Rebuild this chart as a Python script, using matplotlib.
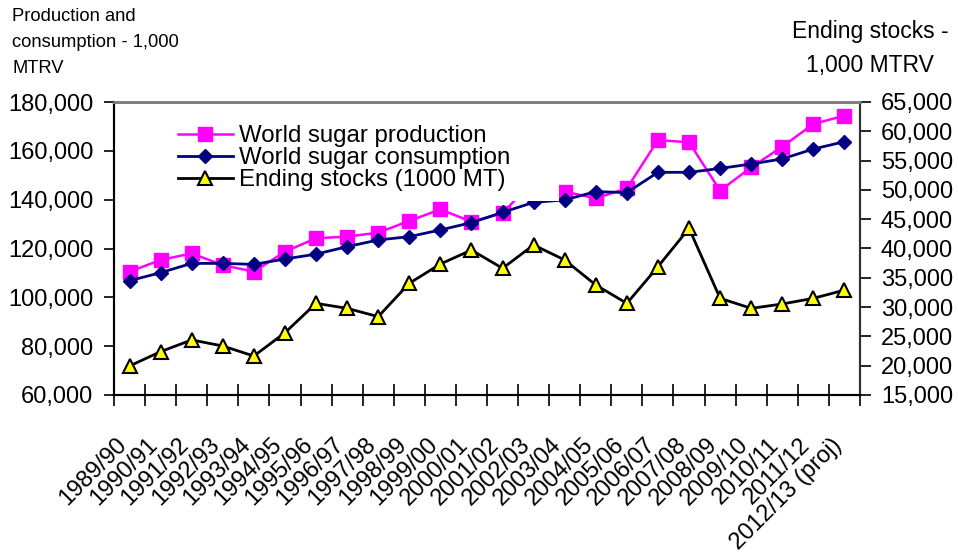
import numpy as np
import matplotlib.pyplot as plt
from matplotlib.ticker import StrMethodFormatter
from matplotlib.transforms import ScaledTranslation

plt.rcParams['font.family'] = ['Liberation Sans', 'DejaVu Sans']

# marketing years on the x axis
seasons = ['1989/90', '1990/91', '1991/92', '1992/93', '1993/94', '1994/95',
           '1995/96', '1996/97', '1997/98', '1998/99', '1999/00', '2000/01',
           '2001/02', '2002/03', '2003/04', '2004/05', '2005/06', '2006/07',
           '2007/08', '2008/09', '2009/10', '2010/11', '2011/12', '2012/13 (proj)']

# 1,000 MTRV
production = [110500, 115300, 118000, 113200, 110500, 118700, 124200, 124850,
              126500, 131300, 136000, 131000, 134400, 147900, 143300, 140550,
              144650, 164400, 163500, 143700, 153250, 161700, 171000, 174400]
consumption = [106800, 110100, 113900, 113900, 113500, 115700, 117700, 120750,
               123500, 124850, 127600, 130600, 134800, 138900, 139900, 143300,
               142900, 151200, 151200, 152800, 154600, 156700, 160750, 163750]
stocks = [19950, 22400, 24400, 23360, 21650, 25630, 30640, 29790,
          28370, 34060, 37350, 39740, 36620, 40600, 38040, 33770,
          30640, 36900, 43440, 31500, 29790, 30530, 31500, 32900]

x = np.arange(len(seasons))
FS = 17

fig = plt.figure(figsize=(9.58, 5.59), dpi=100)
ax = fig.add_axes([114 / 958, 1 - 395 / 559, 746 / 958, 293 / 559])

ax.plot(x, production, color='#FF00FF', lw=1.8, marker='s', ms=10.5,
        mfc='#FF00FF', mec='#FF00FF', label='World sugar production')
ax.plot(x, consumption, color='#000080', lw=2, marker='D', ms=7.5,
        mfc='#000080', mec='#000080', label='World sugar consumption')

# stocks go on the right hand scale
ax2 = ax.twinx()
ax2.plot(x, stocks, color='black', lw=2, marker='^', ms=10,
         mfc='#FFFF00', mec='black', mew=1.5, label='Ending stocks (1000 MT)')

ax.set_xlim(-0.5, len(seasons) - 0.5)
ax.set_ylim(60000, 180000)
ax.set_yticks(np.arange(60000, 180001, 20000))
ax2.set_ylim(15000, 65000)
ax2.set_yticks(np.arange(15000, 65001, 5000))
ax.yaxis.set_major_formatter(StrMethodFormatter('{x:,.0f}'))
ax2.yaxis.set_major_formatter(StrMethodFormatter('{x:,.0f}'))

ax.set_xticks(x)
ax.set_xticks(np.arange(-0.5, len(seasons)), minor=True)
ax.tick_params(axis='x', which='major', length=0, pad=25)
ax.tick_params(axis='x', which='minor', length=16, width=1.2,
               direction='inout', color='black')
ax.tick_params(axis='y', length=7, width=1.2, pad=8, labelsize=FS)
ax2.tick_params(axis='y', length=8, width=1.2, pad=7, labelsize=FS)

ax.set_xticklabels(seasons, rotation=45, ha='right', va='top',
                   rotation_mode='anchor', fontsize=FS)
# nudge the slanted labels so their ends sit under the points
shift = ScaledTranslation(-0.14, -0.04, fig.dpi_scale_trans)
for lab in ax.xaxis.get_majorticklabels():
    lab.set_transform(lab.get_transform() + shift)

for a in (ax, ax2):
    a.spines['top'].set_color('#808080')
    a.spines['top'].set_linewidth(2)
    a.spines['left'].set_linewidth(1.5)
    a.spines['bottom'].set_linewidth(1.5)
    a.spines['right'].set_color('#303030')
    a.spines['right'].set_linewidth(1.5)

# legend with a white box that hides whatever runs behind it
h1, l1 = ax.get_legend_handles_labels()
h2, l2 = ax2.get_legend_handles_labels()
leg = ax2.legend(h1 + h2, l1 + l2, loc='upper left',
                 bbox_to_anchor=(0.072, 0.0, 0.525, 0.956), mode='expand',
                 borderaxespad=0, fontsize=17.3, numpoints=1,
                 handlelength=2.3, handletextpad=0.25, labelspacing=0.0,
                 borderpad=0.42, frameon=True, fancybox=False,
                 facecolor='white', edgecolor='none', framealpha=1)

fig.text(12 / 958, 1 - 8 / 559, 'Production and\nconsumption - 1,000\nMTRV',
         ha='left', va='top', fontsize=13.2, linespacing=1.68)
fig.text(870 / 958, 1 - 20 / 559, 'Ending stocks -\n1,000 MTRV',
         ha='center', va='top', fontsize=16.5, linespacing=1.62)

fig.savefig('out.png', dpi=100)
